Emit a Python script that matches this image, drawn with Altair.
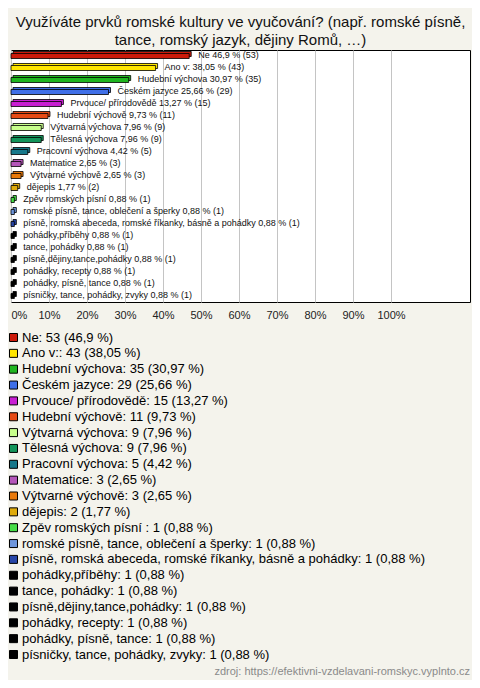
import altair as alt
import pandas as pd

cats = [
    "Ne", "Ano v:", "Hudební výchova", "Českém jazyce", "Prvouce/ přírodovědě",
    "Hudební výchově", "Výtvarná výchova", "Tělesná výchova", "Pracovní výchova",
    "Matematice", "Výtvarné výchově", "dějepis", "Zpěv romských písní ",
    "romské písně, tance, oblečení a šperky",
    "písně, romská abeceda, romské říkanky, básně a pohádky",
    "pohádky,příběhy", "tance, pohádky", "písně,dějiny,tance,pohádky",
    "pohádky, recepty", "pohádky, písně, tance", "písničky, tance, pohádky, zvyky",
]
counts = [53, 43, 35, 29, 15, 11, 9, 9, 5, 3, 3, 2, 1, 1, 1, 1, 1, 1, 1, 1, 1]
pcts = [46.9, 38.05, 30.97, 25.66, 13.27, 9.73, 7.96, 7.96, 4.42, 2.65, 2.65, 1.77,
        0.88, 0.88, 0.88, 0.88, 0.88, 0.88, 0.88, 0.88, 0.88]
colors = [
    "#cc1a0a", "#ffe600", "#1fb51f", "#3f6fe8", "#c81ed2", "#e64a14", "#c8ff8c",
    "#13945a", "#17788a", "#b455b9", "#e8790a", "#deaa0a", "#46dc46", "#6e96dc",
    "#2846a8", "#000000", "#000000", "#000000", "#000000", "#000000", "#000000",
]
ticks = [0, 10, 20, 30, 40, 50, 60, 70, 80, 90, 100]
title_lines = ["Využíváte prvků romské kultury ve vyučování? (např. romské písně,",
               "tance, romský jazyk, dějiny Romů, …)"]
source = "zdroj: https://efektivni-vzdelavani-romskyc.vyplnto.cz"

pstr = [str(p).replace(".", ",") for p in pcts]
bar_labels = [f"{c} {p} % ({n})" for c, p, n in zip(cats, pstr, counts)]
leg_labels = [f"{c}: {n} ({p} %)" for c, p, n in zip(cats, pstr, counts)]

df = pd.DataFrame({"cat": cats, "pct": pcts, "label": bar_labels, "leg": leg_labels})

FONT = "Liberation Sans"
W, H = 459, 252

x = alt.X("pct:Q", scale=alt.Scale(domain=[0, W / 3.8], nice=False),
          axis=alt.Axis(values=ticks, labelExpr="datum.value + '%'", grid=True,
                        gridColor="#c4c4c4", domain=False, ticks=False,
                        labelFontSize=11, labelFont=FONT, labelColor="#222",
                        labelPadding=7, labelFlush=True, title=None))
y = alt.Y("cat:N", sort=cats, axis=None, scale=alt.Scale(paddingInner=0, paddingOuter=0))
color = alt.Color("leg:N", scale=alt.Scale(domain=leg_labels, range=colors),
                  legend=alt.Legend(orient="none", legendX=-4, legendY=281, title=None,
                                    labelFontSize=13, labelFont=FONT, labelColor="#000",
                                    symbolType="square", symbolSize=64,
                                    symbolStrokeColor="black", symbolStrokeWidth=1,
                                    symbolOpacity=1, rowPadding=1.85, labelOffset=2,
                                    padding=0, labelLimit=0))

base = alt.Chart(df)
back = base.mark_bar(size=5, stroke="black", strokeWidth=0.8, xOffset=2, x2Offset=2,
                     yOffset=-2, y2Offset=-2).encode(x=x, y=y, color=color)
front = base.mark_bar(size=5, stroke="black", strokeWidth=0.8).encode(x=x, y=y, color=color)
text = base.mark_text(align="left", baseline="middle", dx=9, dy=-1, fontSize=9,
                      font=FONT, color="#111").encode(x="pct:Q", y=y, text="label:N")
src = alt.Chart(pd.DataFrame({"t": [source]})).mark_text(
    align="right", baseline="middle", fontSize=11, font=FONT, color="#8a8a8a"
).encode(x=alt.value(W), y=alt.value(622), text="t:N")

chart = alt.layer(back, front, text, src).properties(
    width=W, height=H,
    title=alt.TitleParams(text=title_lines, fontSize=15, font=FONT, fontWeight="normal",
                          color="#111", anchor="middle", offset=2, lineHeight=18),
    autosize=alt.AutoSizeParams(type="none"),
    padding={"left": 3, "top": 42, "right": 2, "bottom": 378},
    background="#f4f3ec",
).configure_view(fill="white", stroke="black", strokeWidth=1)

chart.save("out.html", embed_options={"renderer": "svg", "actions": False})
